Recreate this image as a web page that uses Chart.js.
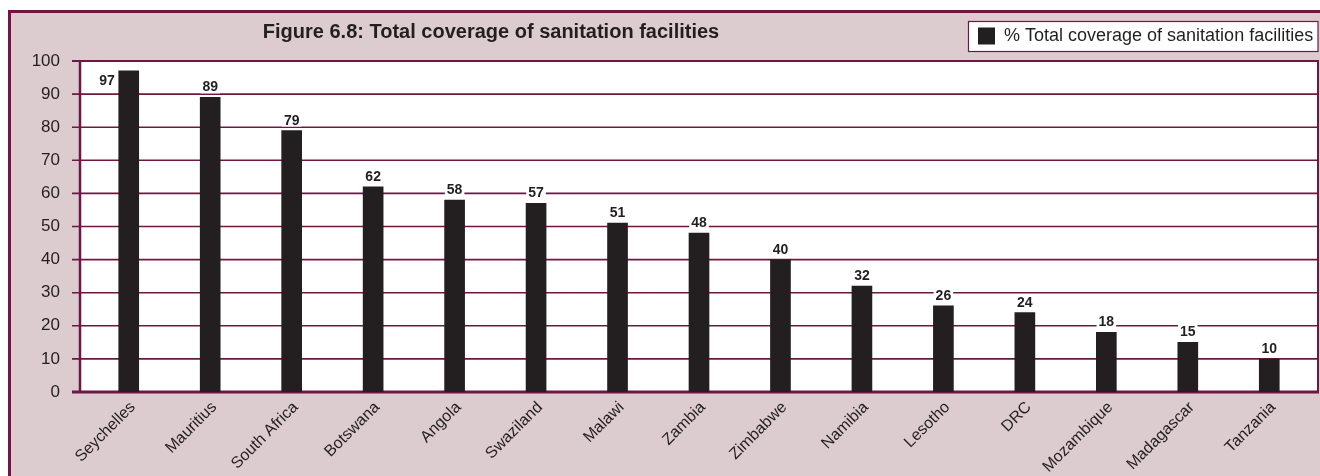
<!DOCTYPE html>
<html><head><meta charset="utf-8">
<script src="https://cdn.jsdelivr.net/npm/chart.js@4.4.0/dist/chart.umd.min.js"></script>
<style>html,body{margin:0;padding:0;background:#fff;overflow:hidden}canvas{display:block}</style>
</head><body>
<canvas id="c" width="1320" height="476"></canvas>
<script>
const categories = ["Seychelles","Mauritius","South Africa","Botswana","Angola","Swaziland","Malawi","Zambia","Zimbabwe","Namibia","Lesotho","DRC","Mozambique","Madagascar","Tanzania"];
const coverage = [97,89,79,62,58,57,51,48,40,32,26,24,18,15,10];
const yTicks = [0,10,20,30,40,50,60,70,80,90,100];
const titleText = "Figure 6.8: Total coverage of sanitation facilities";
const seriesName = "% Total coverage of sanitation facilities";

const FONT = "'Liberation Sans', Arial, Helvetica, sans-serif";
const MAROON = '#701642';
const PINK = '#dccbcf';
const BAR = '#231f20';
const TEXT = '#231f20';

const framePlugin = {
  id: 'framePlugin',
  afterLayout(chart) {
    const t = chart.titleBlock;
    if (t) { t.left = 0; t.right = 982; t.width = 982; const h = t.height; t.top = 20; t.bottom = 20 + h; }
    const l = chart.legend;
    if (l) { const h = l.height; l.left = 969; l.right = 1318; l.top = 18; l.bottom = 18 + h; }
  },
  beforeDraw(chart) {
    const ctx = chart.ctx, W = chart.width, H = chart.height;
    const y = chart.scales.y;
    ctx.save();
    ctx.fillStyle = '#ffffff'; ctx.fillRect(0, 0, W, H);
    ctx.fillStyle = PINK; ctx.fillRect(9.5, 11.5, W, H);
    ctx.strokeStyle = MAROON; ctx.lineWidth = 3;
    ctx.beginPath(); ctx.moveTo(9.5, H + 5); ctx.lineTo(9.5, 11.5); ctx.lineTo(W + 5, 11.5); ctx.stroke();
    ctx.fillStyle = '#ffffff'; ctx.fillRect(968.5, 21.5, 349.5, 30);
    ctx.strokeStyle = MAROON; ctx.lineWidth = 1.2; ctx.strokeRect(968.5, 21.5, 349.5, 30);
    const top = y.getPixelForValue(yTicks[yTicks.length - 1]);
    const bot = y.getPixelForValue(yTicks[0]);
    ctx.fillStyle = '#ffffff'; ctx.fillRect(80, top, 1318 - 80, bot - top);
    ctx.restore();
  },
  beforeDatasetsDraw(chart) {
    const ctx = chart.ctx, y = chart.scales.y;
    const top = y.getPixelForValue(yTicks[yTicks.length - 1]);
    const bot = y.getPixelForValue(yTicks[0]);
    ctx.save();
    ctx.strokeStyle = MAROON;
    yTicks.forEach(v => {
      const py = y.getPixelForValue(v);
      ctx.lineWidth = (v === 0) ? 3 : (v === 100 ? 2 : 1.6);
      ctx.beginPath(); ctx.moveTo(72, py); ctx.lineTo(1319, py); ctx.stroke();
    });
    ctx.lineWidth = 2.5;
    ctx.beginPath(); ctx.moveTo(80, top); ctx.lineTo(80, bot); ctx.stroke();
    ctx.lineWidth = 2;
    ctx.beginPath(); ctx.moveTo(1318, top - 1); ctx.lineTo(1318, bot); ctx.stroke();
    ctx.restore();
  },
  afterDatasetsDraw(chart) {
    const ctx = chart.ctx, meta = chart.getDatasetMeta(0);
    const top = chart.chartArea.top;
    ctx.save();
    ctx.font = "bold 14px " + FONT;
    ctx.textBaseline = 'alphabetic';
    meta.data.forEach((el, i) => {
      const txt = String(chart.data.datasets[0].data[i]);
      const w = ctx.measureText(txt).width;
      const capH = 10;
      let tx, baseY;
      if (el.y - 6 - capH < top + 4) {
        tx = el.x - el.width / 2 - 4 - w;
        baseY = el.y + 4 + capH;
      } else {
        tx = el.x - w / 2;
        baseY = el.y - 6;
      }
      ctx.fillStyle = '#ffffff';
      ctx.fillRect(tx - 2, baseY - capH - 2, w + 4, capH + 4);
      ctx.fillStyle = TEXT;
      ctx.fillText(txt, tx, baseY);
    });
    ctx.restore();
  }
};

new Chart(document.getElementById('c'), {
  type: 'bar',
  data: {
    labels: categories,
    datasets: [{
      label: seriesName,
      data: coverage,
      backgroundColor: BAR,
      borderWidth: 0,
      barThickness: 20
    }]
  },
  options: {
    responsive: false,
    animation: false,
    devicePixelRatio: 1,
    layout: { padding: { top: 0, left: 0, right: 10, bottom: 0 } },
    plugins: {
      tooltip: { enabled: false },
      title: {
        display: true, text: titleText, align: 'center', color: TEXT,
        font: { family: FONT, size: 20, weight: 'bold', lineHeight: 1.2 },
        padding: { top: 0, bottom: 0 }
      },
      legend: {
        display: true, position: 'top', align: 'start',
        labels: {
          color: TEXT, boxWidth: 17, boxHeight: 17, padding: 9,
          font: { family: FONT, size: 18 }
        }
      }
    },
    scales: {
      x: {
        type: 'category', offset: true,
        grid: { display: false, drawTicks: false },
        border: { display: false },
        ticks: { autoSkip: false, maxRotation: 45, minRotation: 45, padding: 6, labelOffset: 4, color: TEXT, font: { family: FONT, size: 16 } },
        afterFit(s) { s.height = 84; }
      },
      y: {
        min: yTicks[0], max: yTicks[yTicks.length - 1],
        grid: { display: false, drawTicks: false },
        border: { display: false },
        ticks: { stepSize: 10, padding: 28, color: TEXT, font: { family: FONT, size: 17 } },
        afterFit(s) { s.width = 88; }
      }
    }
  },
  plugins: [framePlugin]
});
</script>
</body></html>
